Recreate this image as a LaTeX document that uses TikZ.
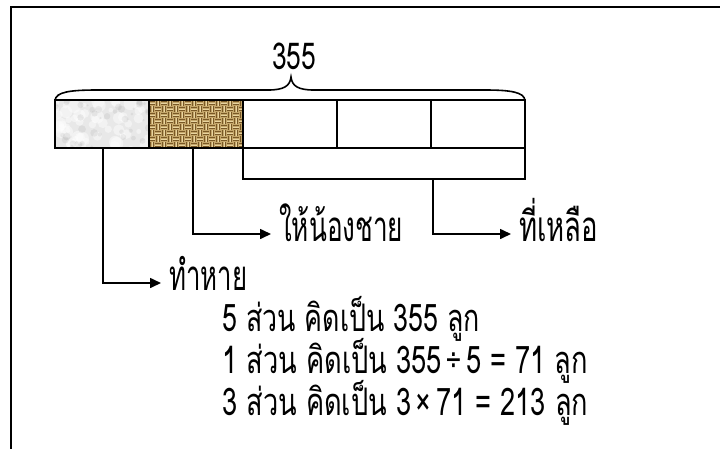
\documentclass[tikz,border=0pt]{standalone}
\usepackage{fontspec}
\usepackage{graphicx}
\setmainfont[Script=Thai]{Loma}
\newcommand{\fitw}[2]{\resizebox{#1}{\height}{#2}}
\usetikzlibrary{arrows.meta}
\definecolor{burlap}{RGB}{196,166,106}
\definecolor{burlapdark}{RGB}{120,88,38}
\definecolor{burlaplight}{RGB}{232,212,160}
\definecolor{marble}{RGB}{232,232,232}
\tikzset{
  cell/.style={draw=black, line width=1.6pt, minimum width=94pt, minimum height=47.5pt, inner sep=0pt, outer sep=0pt},
  conn/.style={draw=black, line width=1.6pt},
  arr/.style={conn, -{Triangle[length=11pt,width=10pt]}},
  lbl/.style={font=\fontsize{42}{46}\selectfont, inner ysep=0pt, inner xsep=8pt, text height=14pt, text depth=0pt, anchor=west},
  calc/.style={font=\fontsize{38}{42}\selectfont, inner sep=0pt, anchor=base west},
}
\begin{document}
\begin{tikzpicture}[x=1pt,y=-1pt]
\useasboundingbox (0,0) rectangle (720,448);
% frame
\draw[line width=2pt] (11,470) -- (11,7) -- (740,7);
% textures
\begin{scope}
  \clip (55,100) rectangle (149,148);
  \fill[marble] (55,100) rectangle (149,148);
  \pgfmathsetseed{7}
  \foreach \i in {1,...,60}{
    \pgfmathsetmacro{\px}{55+94*rnd}
    \pgfmathsetmacro{\py}{100+48*rnd}
    \pgfmathsetmacro{\pr}{2+5*rnd}
    \fill[white, opacity=0.45] (\px,\py) circle (\pr);
  }
  \foreach \i in {1,...,40}{
    \pgfmathsetmacro{\px}{55+94*rnd}
    \pgfmathsetmacro{\py}{100+48*rnd}
    \pgfmathsetmacro{\pr}{1+3*rnd}
    \fill[gray, opacity=0.12] (\px,\py) circle (\pr);
  }
\end{scope}
\begin{scope}
  \clip (149,100) rectangle (243,148);
  \fill[burlap] (149,100) rectangle (243,148);
  \foreach \a in {0,...,15}{
    \foreach \b in {0,...,7}{
      \pgfmathtruncatemacro{\parity}{mod(\a+\b,2)}
      \pgfmathsetmacro{\xx}{149+6*\a}
      \pgfmathsetmacro{\yy}{100+6*\b}
      \ifnum\parity=0
        \draw[burlapdark, line width=0.9pt] (\xx,\yy+1.5) -- (\xx+6,\yy+1.5) (\xx,\yy+4.5) -- (\xx+6,\yy+4.5);
        \draw[burlaplight, line width=0.6pt] (\xx,\yy+3) -- (\xx+6,\yy+3);
      \else
        \draw[burlapdark, line width=0.9pt] (\xx+1.5,\yy) -- (\xx+1.5,\yy+6) (\xx+4.5,\yy) -- (\xx+4.5,\yy+6);
        \draw[burlaplight, line width=0.6pt] (\xx+3,\yy) -- (\xx+3,\yy+6);
      \fi
    }
  }
\end{scope}
% cells
\node[cell] (c1) at (102,124) {};
\node[cell] (c2) at (196,124) {};
\node[cell] (c3) at (290,124) {};
\node[cell] (c4) at (384,124) {};
\node[cell] (c5) at (478,124) {};
% brace
\coordinate (bl) at (c1.north west);
\coordinate (br) at (c5.north east);
\draw[conn, line cap=round] (bl) .. controls (56,92) and (70,90) .. (97,90) -- (268,90)
  .. controls (284,90) and (290,86) .. (291,77)
  .. controls (292,86) and (298,90) .. (314,90) -- (485,90)
  .. controls (510,90) and (524,92) .. (br);
\node[font=\fontsize{37}{40}\selectfont, inner sep=0pt] (total) at (294,56) {\fitw{44pt}{355}};
% labels
\node[lbl] (l1) at (161,283) {\fitw{78pt}{ทำหาย}};
\node[lbl] (l2) at (271,234) {\fitw{124pt}{ให้น้องชาย}};
\node[lbl] (l3) at (511,234) {\fitw{79pt}{ที่เหลือ}};
% bracket for remaining parts
\coordinate (bk1) at (243,179);
\coordinate (bk2) at (525,179);
\coordinate (bk) at (433,179);
\draw[conn] (c3.south west) -- (bk1) -- (bk2) -- (c5.south east);
% arrows
\draw[arr] ([xshift=1pt]c1.south) |- (l1.west);
\draw[arr] ([xshift=-3pt]c2.south) |- (l2.west);
\draw[arr] (bk) |- (l3.west);
% calculations
\node[calc] (t1) at (222,331) {\fitw{258pt}{5 ส่วน คิดเป็น 355 ลูก}};
\node[calc] (t2) at (222,373) {\fitw{366pt}{1 ส่วน คิดเป็น 355\,÷\,5 = 71 ลูก}};
\node[calc] (t3) at (222,415) {\fitw{366pt}{3 ส่วน คิดเป็น 3\,×\,71 = 213 ลูก}};
\end{tikzpicture}
\end{document}
